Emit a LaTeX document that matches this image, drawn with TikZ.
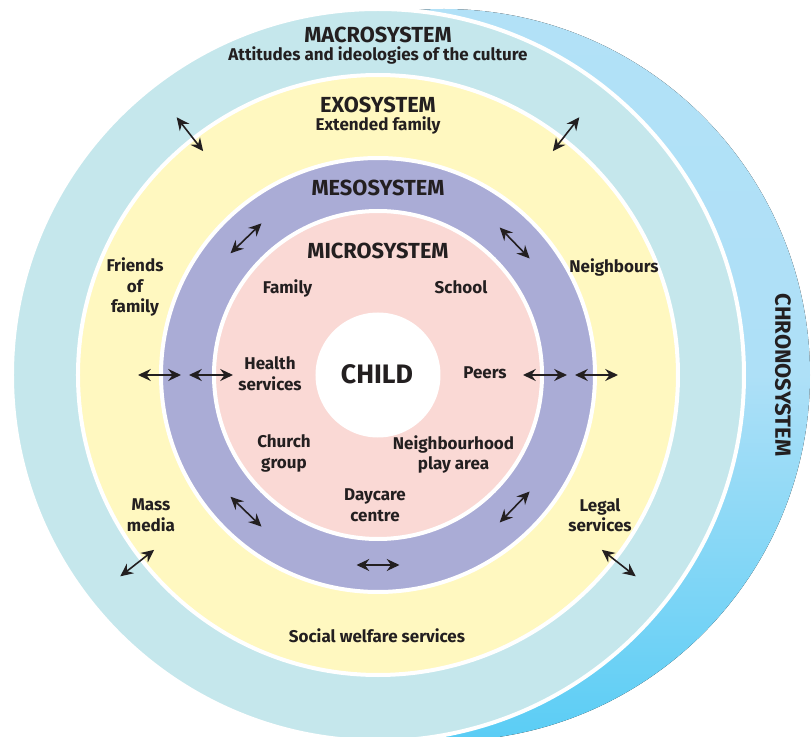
\documentclass[tikz,border=0pt]{standalone}
\usepackage{fontspec}
\setmainfont{Fira Sans}
\usetikzlibrary{arrows.meta}
\definecolor{ink}{RGB}{35,31,32}
\definecolor{macrocol}{RGB}{197,231,236}
\definecolor{exocol}{RGB}{255,248,192}
\definecolor{mesocol}{RGB}{170,172,214}
\definecolor{microcol}{RGB}{250,217,213}
\definecolor{chrotop}{RGB}{178,225,247}
\definecolor{chromid}{RGB}{174,224,247}
\definecolor{chrobot}{RGB}{90,205,245}
\begin{document}
\begin{tikzpicture}[x=0.025cm,y=0.025cm,
  >={Stealth[length=3.2mm,width=3mm,inset=1.1mm]},
  ring/.style={draw=white,line width=1mm},
  dbl/.style={<->,draw=ink,line width=0.4mm},
  sys/.style={text=ink,font=\bfseries\fontsize{15.5}{18}\selectfont},
  lbl/.style={text=ink,font=\bfseries\fontsize{12.1}{14.6}\selectfont,align=center}]
\useasboundingbox (-378,-362) rectangle (433,375);
\clip (-378,-362) rectangle (433,375);

\fill[top color=chrotop,bottom color=chrobot,middle color=chromid] (66,0) circle (366);
\filldraw[fill=macrocol,ring] (0,0) circle (366);
\filldraw[fill=exocol,ring] (0,0) circle (300);
\filldraw[fill=mesocol,ring] (0,0) circle (217);
\filldraw[fill=microcol,ring] (0,0) circle (164);
\fill[white] (0,0) circle (62.5);

\foreach \a in {128,52,218,-38} \draw[dbl] (\a:284) -- (\a:327);
\foreach \a in {134,44,226,-44,270} \draw[dbl,shift={(\a:190)},rotate=\a] (0,-21.5) -- (0,21.5);
\foreach \a in {0,180} {\draw[dbl] (\a:145) -- (\a:189); \draw[dbl] (\a:197) -- (\a:240);}

\node[sys] (macro) at (0,340.5) {MACROSYSTEM};
\node[lbl] (ideology) at (0,320) {Attitudes and ideologies of the culture};
\node[sys] (exo) at (0,270.5) {EXOSYSTEM};
\node[lbl] (extended) at (0,250) {Extended family};
\node[sys] (meso) at (0,187.5) {MESOSYSTEM};
\node[sys] (micro) at (0,124.5) {MICROSYSTEM};
\node[text=ink,font=\bfseries\fontsize{19}{22}\selectfont] (child) at (-1,1) {CHILD};

\node[lbl] (family) at (-90.5,87) {Family};
\node[lbl] (school) at (83,88) {School};
\node[lbl] (health) at (-108,1.5) {Health\\services};
\node[lbl] (peers) at (107,2) {Peers};
\node[lbl] (church) at (-94,-78.5) {Church\\group};
\node[lbl] (play) at (75.5,-79.5) {Neighbourhood\\play area};
\node[lbl] (daycare) at (-3,-130) {Daycare\\centre};

\node[lbl] (friends) at (-243,88) {Friends\\of\\family};
\node[lbl] (neighbours) at (236,108) {Neighbours};
\node[lbl] (media) at (-227,-140) {Mass\\media};
\node[lbl] (legal) at (222,-140) {Legal\\services};
\node[lbl] (welfare) at (-1,-261) {Social welfare services};

\node[text=ink,font=\bfseries\fontsize{15.6}{18}\selectfont,rotate=-90] (chrono) at (405,0) {CHRONOSYSTEM};
\end{tikzpicture}
\end{document}
